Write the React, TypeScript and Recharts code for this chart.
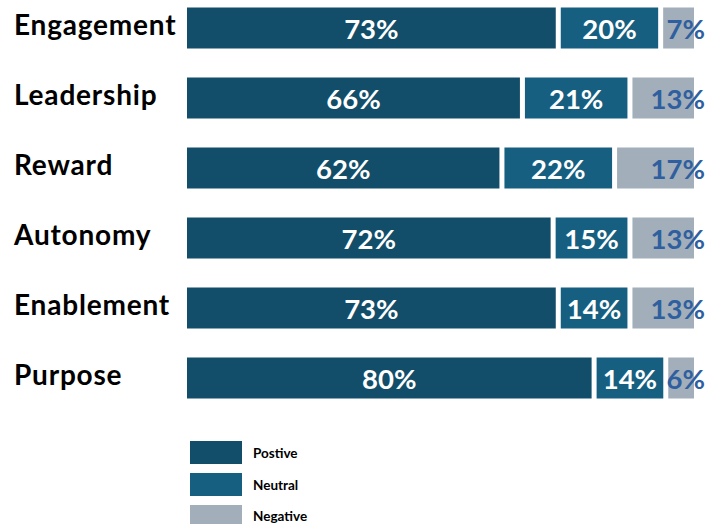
import React from 'react'
import { BarChart, Bar, XAxis, YAxis, Legend, LabelList } from 'recharts'

const categories = ['Engagement', 'Leadership', 'Reward', 'Autonomy', 'Enablement', 'Purpose']
const positive = [73, 66, 62, 72, 73, 80]
const neutral = [20, 21, 22, 15, 14, 14]
const negative = [7, 13, 17, 13, 13, 6]
const seriesNames = ['Postive', 'Neutral', 'Negative']
const colors = ['#124e69', '#175f80', '#a2afba']

const data = categories.map((name, i) => ({
  name,
  positive: positive[i],
  neutral: neutral[i],
  negative: negative[i],
}))

const FONT = 'Lato, "Open Sans", sans-serif'
const GAP = 5

const Segment = (props: any) => {
  const { x, y, width, height, fill } = props
  return <rect x={x} y={y} width={Math.max(width - GAP, 0)} height={height} fill={fill} />
}

const InsideLabel = (props: any) => {
  const { x, y, width, height, value } = props
  return (
    <text
      x={x + (width - GAP) / 2}
      y={y + height / 2}
      textAnchor="middle"
      dominantBaseline="central"
      fill="#ffffff"
      fontSize={27.5}
      fontWeight={700}
      fontFamily={FONT}
    >
      {value}%
    </text>
  )
}

const EndLabel = (props: any) => {
  const { x, y, width, height, value } = props
  return (
    <text
      x={x + width + 6}
      y={y + height / 2}
      textAnchor="end"
      dominantBaseline="central"
      fill="#2f5f9f"
      fontSize={27.5}
      fontWeight={700}
      fontFamily={FONT}
    >
      {value}%
    </text>
  )
}

const CategoryTick = (props: any) => {
  const { y, payload } = props
  return (
    <text
      x={14}
      y={y + 7}
      textAnchor="start"
      fill="#000"
      fontSize={28}
      fontWeight={700}
      letterSpacing={0.8}
      fontFamily={FONT}
    >
      {payload.value}
    </text>
  )
}

const renderLegend = (props: any) => {
  const items = [...(props.payload || [])].sort(
    (a: any, b: any) => seriesNames.indexOf(a.value) - seriesNames.indexOf(b.value)
  )
  return (
    <div style={{ fontFamily: FONT }}>
      {items.map((entry: any) => (
        <div key={entry.value} style={{ display: 'flex', alignItems: 'center', height: 31.7 }}>
          <div style={{ width: 52, height: 23, background: entry.color }} />
          <span style={{ marginLeft: 11, fontSize: 13.5, fontWeight: 700, color: '#000' }}>{entry.value}</span>
        </div>
      ))}
    </div>
  )
}

export default function App() {
  return (
    <div style={{ position: 'relative', width: 708, height: 524, overflow: 'hidden', background: '#fff' }}>
      <style>{'body{margin:0}'}</style>
      <div style={{ position: 'absolute', top: -8, left: 0 }}>
        <BarChart
          width={708}
          height={540}
          data={data}
          layout="vertical"
          margin={{ top: 0.5, right: 9, bottom: 119.5, left: 0 }}
          barSize={41}
        >
          <XAxis type="number" domain={[0, 100]} allowDataOverflow hide />
          <YAxis
            type="category"
            dataKey="name"
            width={187}
            axisLine={false}
            tickLine={false}
            tick={<CategoryTick />}
          />
          <Legend
            layout="horizontal"
            verticalAlign="middle"
            align="center"
            content={renderLegend}
            wrapperStyle={{ top: 445, left: 190, width: 200 }}
          />
          <Bar dataKey="positive" name={seriesNames[0]} stackId="a" fill={colors[0]} shape={<Segment />} isAnimationActive={false}>
            <LabelList dataKey="positive" content={<InsideLabel />} />
          </Bar>
          <Bar dataKey="neutral" name={seriesNames[1]} stackId="a" fill={colors[1]} shape={<Segment />} isAnimationActive={false}>
            <LabelList dataKey="neutral" content={<InsideLabel />} />
          </Bar>
          <Bar dataKey="negative" name={seriesNames[2]} stackId="a" fill={colors[2]} shape={<Segment />} isAnimationActive={false}>
            <LabelList dataKey="negative" content={<EndLabel />} />
          </Bar>
        </BarChart>
      </div>
    </div>
  )
}
